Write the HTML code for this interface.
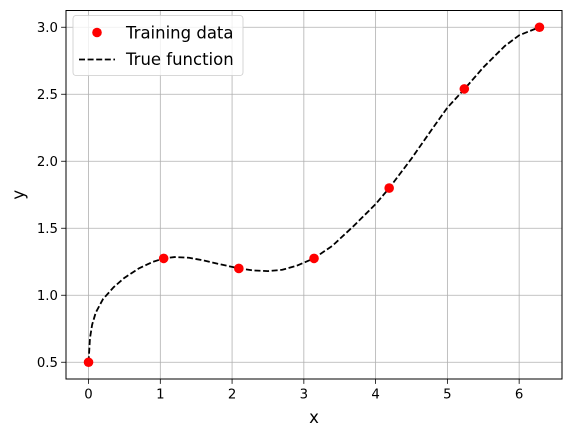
<!DOCTYPE html>
<html><head><meta charset="utf-8"><style>
body{margin:0;background:#fff;}
svg{display:block;font-family:"DejaVu Sans","Liberation Sans",sans-serif;}
</style></head><body>
<svg id="chart" width="571" height="436"></svg>
<script>
const xTicks=[0,1,2,3,4,5,6];
const yTicks=[0.5,1.0,1.5,2.0,2.5,3.0];
const yTickLabels=["0.5","1.0","1.5","2.0","2.5","3.0"];
const trainX=[0,1.047,2.094,3.142,4.189,5.236,6.283];
const trainY=[0.5,1.275,1.2,1.275,1.8,2.54,3.0];
const trueX=[0,0.02,0.05,0.1,0.2,0.35,0.5,0.7,0.9,1.05,1.2,1.4,1.6,1.8,2.1,2.3,2.5,2.7,2.9,3.14,3.4,3.7,4.0,4.19,4.5,4.8,5.0,5.24,5.5,5.8,6.0,6.28];
const trueY=[0.5,0.68,0.78,0.87,0.97,1.06,1.13,1.2,1.25,1.275,1.285,1.28,1.26,1.235,1.2,1.185,1.18,1.19,1.22,1.275,1.37,1.52,1.68,1.8,2.02,2.25,2.4,2.54,2.7,2.86,2.94,3.0];

const NS="http://www.w3.org/2000/svg";
const svg=document.getElementById('chart');
const L=66,R=562,T=10.5,B=379;
const xmin=-0.314,xmax=6.597,ymin=0.375,ymax=3.125;
const sx=v=>L+(v-xmin)/(xmax-xmin)*(R-L);
const sy=v=>B-(v-ymin)/(ymax-ymin)*(B-T);
function mk(tag,attrs,parent){const e=document.createElementNS(NS,tag);for(const k in attrs)e.setAttribute(k,attrs[k]);(parent||svg).appendChild(e);return e;}

const grid=mk('g',{});


xTicks.forEach(t=>{
  const l=mk('line',{x1:sx(t),x2:sx(t),y1:T,y2:B,stroke:'#b0b0b0','stroke-width':0.8},grid);
  
  
  const tk=mk('line',{x1:sx(t),x2:sx(t),y1:B,y2:B+4.9,stroke:'#000','stroke-width':0.8});
  
  
  const tx=mk('text',{x:sx(t),y:B+19.5,'font-size':13.3,'text-anchor':'middle'});
  tx.textContent=String(t);
  
  
});
yTicks.forEach((t,i)=>{
  const l=mk('line',{x1:L,x2:R,y1:sy(t),y2:sy(t),stroke:'#b0b0b0','stroke-width':0.8},grid);
  
  
  const tk=mk('line',{x1:L-4.9,x2:L,y1:sy(t),y2:sy(t),stroke:'#000','stroke-width':0.8});
  
  
  const tx=mk('text',{x:L-8,y:sy(t)+4.8,'font-size':13.3,'text-anchor':'end'});
  tx.textContent=yTickLabels[i];
  
  
});

const line=mk('polyline',{points:trueX.map((x,i)=>sx(x)+','+sy(trueY[i])).join(' '),fill:'none',stroke:'#000','stroke-width':1.8,'stroke-dasharray':'6,2.6','stroke-linejoin':'round'});



trainX.forEach((x,i)=>{
  const c=mk('circle',{cx:sx(x),cy:sy(trainY[i]),r:4.8,fill:'#ff0000'});
  
  
});

const frame=mk('rect',{x:L,y:T,width:R-L,height:B-T,fill:'none',stroke:'#000','stroke-width':1});



const xl=mk('text',{x:(L+R)/2,y:423,'font-size':16.5,'text-anchor':'middle'});
xl.textContent='x';


const yl=mk('text',{x:0,y:0,'font-size':16.5,'text-anchor':'middle',transform:'translate(24,'+((T+B)/2)+') rotate(-90)'});
yl.textContent='y';



const lg=mk('g',{});


mk('rect',{x:73,y:15.5,width:170,height:60,rx:3,fill:'#fff','fill-opacity':0.8,stroke:'#ccc','stroke-width':0.8},lg);
const lc=mk('circle',{cx:97,cy:32.5,r:4.8,fill:'#ff0000'},lg);


const t1=mk('text',{x:126,y:38.5,'font-size':16.5},lg);
t1.textContent='Training data';


const ll=mk('line',{x1:79,x2:115,y1:59.5,y2:59.5,stroke:'#000','stroke-width':1.8,'stroke-dasharray':'6,2.6'},lg);


const t2=mk('text',{x:126,y:65,'font-size':16.5},lg);
t2.textContent='True function';


</script>
</body></html>
